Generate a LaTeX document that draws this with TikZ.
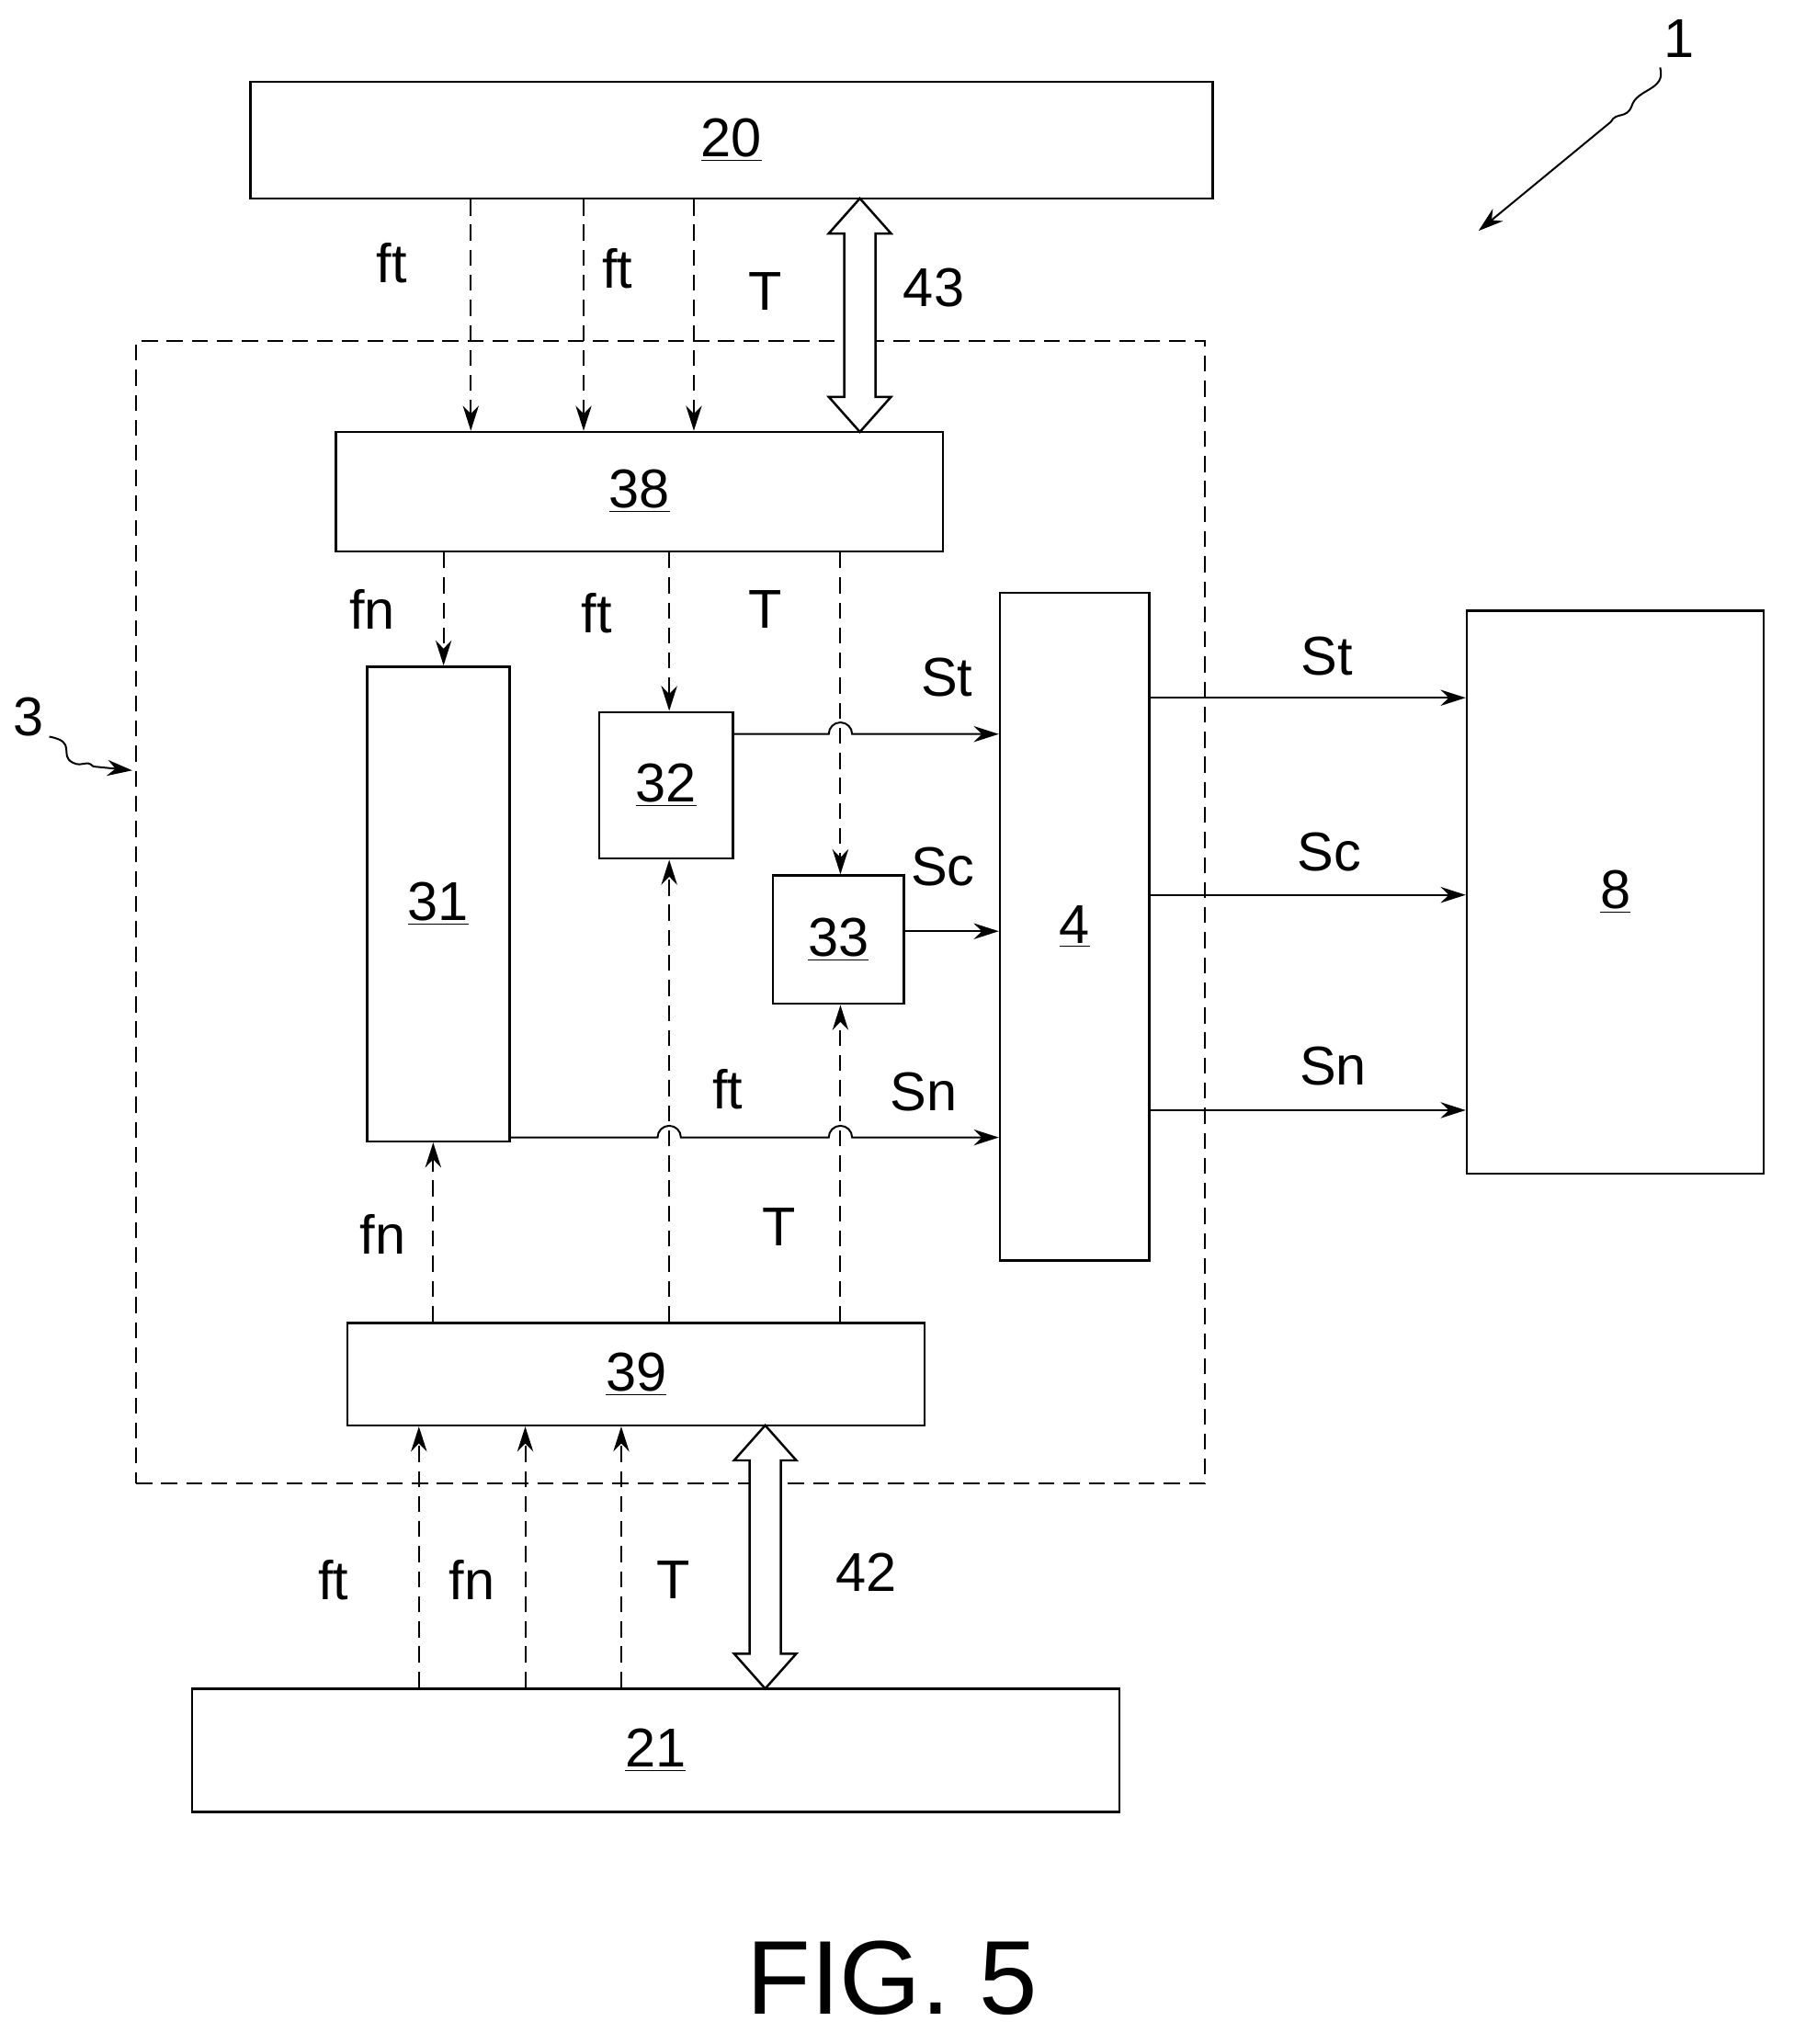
\documentclass[tikz,border=0pt]{standalone}
\usepackage{fontspec}
\setmainfont{Liberation Sans}
\usetikzlibrary{arrows.meta}
\begin{document}
\begin{tikzpicture}[x=0.02cm,y=-0.02cm,
 line width=0.8pt,
 box/.style={draw,line width=1pt,inner sep=0pt,font=\fontsize{24}{24}\selectfont},
 lab/.style={font=\fontsize{24}{24}\selectfont},
 dsh/.style={dash pattern=on 7pt off 4pt,-{Stealth[length=11pt,width=7pt]}},
 sol/.style={-{Stealth[length=11pt,width=7pt]}},
 dbl/.style={draw,line width=1pt,fill=white}]
\useasboundingbox (0,0) rectangle (1383,1576);
\newcommand{\bx}[7]{\node[box,minimum width={(#3-#2)*0.02cm},minimum height={(#5-#4)*0.02cm}] (#1) at ({(#2+#3)/2},{(#4+#5)/2}) {\underline{#6}};}
\bx{n20}{193}{935}{63}{153}{20}{}
\bx{n38}{259}{727}{333}{425}{38}{}
\bx{n31}{283}{393}{514}{880}{31}{}
\bx{n32}{462}{565}{549}{662}{32}{}
\bx{n33}{596}{697}{675}{774}{33}{}
\bx{n4}{771}{886}{457}{972}{4}{}
\bx{n8}{1131}{1360}{471}{905}{8}{}
\bx{n39}{268}{713}{1020}{1099}{39}{}
\bx{n21}{148}{863}{1302}{1397}{21}{}
\node[draw,dash pattern=on 7pt off 4pt,line width=0.8pt,minimum width={824*0.02cm},minimum height={881*0.02cm}] (n3) at (517,703.5) {};
% 20 -> 38
\foreach \x in {363,450,535} \draw[dsh] (\x,0 |- n20.south) -- (\x,0 |- n38.north);
\node[lab] (l1) at (302,203) {ft};
\node[lab] (l2) at (476,207) {ft};
\node[lab] (l3) at (590,225) {T};
\node[lab] (l43) at (720,222) {43};
% double arrows
\newcommand{\dblarrow}[3]{\path[dbl] (#1-12,#2+27) -- (#1-24,#2+27) -- (#1,#2) -- (#1+24,#2+27) -- (#1+12,#2+27) -- (#1+12,#3-27) -- (#1+24,#3-27) -- (#1,#3) -- (#1-24,#3-27) -- (#1-12,#3-27) -- cycle;}
\dblarrow{663}{153}{333}
\dblarrow{590}{1099}{1302}
\node[lab] (l42) at (668,1212) {42};
% 38 -> 31,32,33
\draw[dsh] (342,0 |- n38.south) -- (342,0 |- n31.north);
\draw[dsh] (516,0 |- n38.south) -- (516,0 |- n32.north);
\draw[dsh] (648,0 |- n38.south) -- (648,0 |- n33.north);
\node[lab] (l4) at (287,470) {fn};
\node[lab] (l5) at (460,473) {ft};
\node[lab] (l6) at (590,470) {T};
% to 4
\draw[sol] (n32.east |- 0,566) -- (639,566) arc (180:360:9) -- (n4.west |- 0,566);
\draw[sol] (n33.east |- 0,718) -- (n4.west |- 0,718);
\draw[sol] (n31.east |- 0,877) -- (507,877) arc (180:360:9) -- (639,877) arc (180:360:9) -- (n4.west |- 0,877);
\node[lab] (l7) at (730,522) {St};
\node[lab] (l8) at (727,668) {Sc};
\node[lab] (l9) at (561,840) {ft};
\node[lab] (l10) at (712,842) {Sn};
% 39 -> 31,32,33
\draw[dsh] (334,0 |- n39.north) -- (334,0 |- n31.south);
\draw[dsh] (516,0 |- n39.north) -- (516,0 |- n32.south);
\draw[dsh] (648,0 |- n39.north) -- (648,0 |- n33.south);
\node[lab] (l11) at (295,952) {fn};
\node[lab] (l12) at (601,946) {T};
% 21 -> 39
\foreach \x in {323,405,479} \draw[dsh] (\x,0 |- n21.north) -- (\x,0 |- n39.south);
\node[lab] (l13) at (257,1218) {ft};
\node[lab] (l14) at (364,1218) {fn};
\node[lab] (l15) at (519,1218) {T};
% 4 -> 8
\foreach \y in {538,690,856} \draw[sol] (n4.east |- 0,\y) -- (n8.west |- 0,\y);
\node[lab] (l16) at (1023,506) {St};
\node[lab] (l17) at (1025,657) {Sc};
\node[lab] (l18) at (1028,822) {Sn};
% reference labels
\node[lab] (r1) at (1295,30) {1};
\coordinate (r1e) at (1140,178);
\draw[sol] (1280,52) .. controls (1285,70) and (1262,68) .. (1258,82) .. controls (1254,92) and (1246,86) .. (1242,94) -- (r1e);
\node[lab] (r3) at (22,553) {3};
\coordinate (r3e) at (102,594);
\draw[sol] (38,568) .. controls (60,572) and (45,582) .. (56,588) .. controls (64,592) and (66,585) .. (72,591) -- (r3e);
\node[font=\fontsize{46}{46}\selectfont] (fig) at (688,1525) {FIG. 5};
\end{tikzpicture}
\end{document}
